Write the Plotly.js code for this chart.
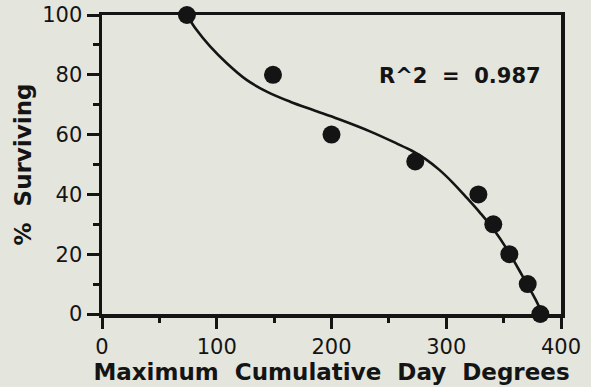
<!DOCTYPE html>
<html>
<head>
<meta charset="utf-8">
<script src="https://cdn.plot.ly/plotly-3.0.1.min.js"></script>
<style>
  html, body { margin: 0; padding: 0; background: #e4e5dc; }
  #chart { width: 591px; height: 387px; }
</style>
</head>
<body>
<div id="chart"></div>
<script>
// Observed data points
const degreeDays = [74, 149, 200, 273, 328, 341, 355, 371, 382];
const survivingPct = [100, 80, 60, 51, 40, 30, 20, 10, 0];

// Fitted curve
const fitX = [74, 82, 94, 109, 126, 144, 164, 184, 206, 234, 257, 270, 282, 294, 306, 318, 330, 341, 353, 366, 378, 382];
const fitY = [100, 95.2, 89.6, 83.8, 78.3, 74.3, 71, 68.2, 65.2, 61, 57, 54.6, 51.8, 48.2, 43.8, 38.8, 33.6, 28.4, 21.6, 13, 4.7, 1.5];

const xTickVals = [0, 100, 200, 300, 400];
const yTickVals = [0, 20, 40, 60, 80, 100];
const fitLabel = 'R^2\u00a0\u00a0=\u00a0\u00a00.987';

const ink = '#141414';
const bg = '#e4e5dc';
const tickFont = { family: 'DejaVu Sans', size: 21, color: ink };
const titleFont = { family: 'DejaVu Sans', size: 23, color: ink, weight: 'bold' };

const traces = [
  {
    x: fitX, y: fitY, type: 'scatter', mode: 'lines',
    line: { color: ink, width: 2.6, shape: 'spline', smoothing: 1 },
    hoverinfo: 'skip', showlegend: false
  },
  {
    x: degreeDays, y: survivingPct, type: 'scatter', mode: 'markers',
    marker: { color: ink, size: 18 },
    showlegend: false, cliponaxis: false
  }
];

const layout = {
  width: 591, height: 387,
  paper_bgcolor: bg, plot_bgcolor: bg,
  margin: { l: 102, r: 30, t: 15, b: 73 },
  showlegend: false,
  xaxis: {
    range: [0, 400], tickvals: xTickVals, ticktext: xTickVals.map(String),
    showgrid: false, zeroline: false,
    showline: true, linecolor: ink, linewidth: 3.5, mirror: true,
    ticks: 'outside', ticklen: 11, tickwidth: 3, tickcolor: ink,
    minor: { dtick: 50, ticks: 'outside', ticklen: 5, tickwidth: 3, tickcolor: ink, showgrid: false },
    tickfont: tickFont,
    title: { text: 'Maximum\u00a0\u00a0Cumulative\u00a0\u00a0Day\u00a0\u00a0Degrees', font: titleFont, standoff: 0 }
  },
  yaxis: {
    range: [0, 100], tickvals: yTickVals, ticktext: yTickVals.map(String),
    showgrid: false, zeroline: false,
    showline: true, linecolor: ink, linewidth: 3.5, mirror: true,
    ticks: 'outside', ticklen: 12, tickwidth: 3, tickcolor: ink,
    minor: { dtick: 10, ticks: 'outside', ticklen: 6, tickwidth: 3, tickcolor: ink, showgrid: false },
    tickfont: tickFont,
    title: { text: '%\u00a0\u00a0Surviving', font: titleFont, standoff: 5 }
  },
  annotations: [
    {
      x: 0.78, y: 0.796, xref: 'paper', yref: 'paper',
      text: fitLabel, showarrow: false,
      font: { family: 'DejaVu Sans', size: 21, color: ink, weight: 'bold' },
      xanchor: 'center', yanchor: 'middle'
    }
  ]
};

Plotly.newPlot('chart', traces, layout, { displayModeBar: false, staticPlot: true });
</script>
</body>
</html>
